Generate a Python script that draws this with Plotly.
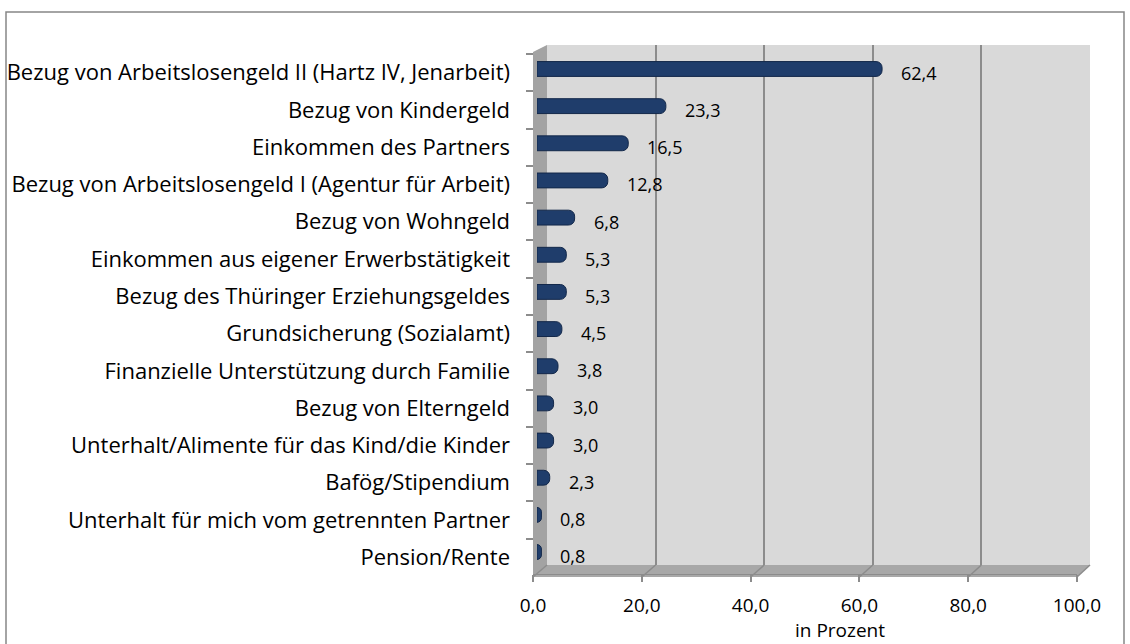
import plotly.graph_objects as go

categories = [
    "Bezug von Arbeitslosengeld II (Hartz IV, Jenarbeit)",
    "Bezug von Kindergeld",
    "Einkommen des Partners",
    "Bezug von Arbeitslosengeld I (Agentur für Arbeit)",
    "Bezug von Wohngeld",
    "Einkommen aus eigener Erwerbstätigkeit",
    "Bezug des Thüringer Erziehungsgeldes",
    "Grundsicherung (Sozialamt)",
    "Finanzielle Unterstützung durch Familie",
    "Bezug von Elterngeld",
    "Unterhalt/Alimente für das Kind/die Kinder",
    "Bafög/Stipendium",
    "Unterhalt für mich vom getrennten Partner",
    "Pension/Rente",
]
values = [62.4, 23.3, 16.5, 12.8, 6.8, 5.3, 5.3, 4.5, 3.8, 3.0, 3.0, 2.3, 0.8, 0.8]
x_ticks = [0, 20, 40, 60, 80, 100]
x_title = "in Prozent"

W, H = 1130, 644
FONT = "Open Sans"
FS_CAT = 22
FS_NUM = 19
FS_LBL = 18


def fx(p):
    return p / W


def fy(p):
    return 1 - p / H


def dom_x(a, b):
    return [fx(a), fx(b)]


def dom_y(top, bottom):
    return [fy(bottom), fy(top)]


fig = go.Figure()

fig.add_trace(go.Scatter(x=[0, 100], y=[0, 1], mode="none", showlegend=False,
                         hoverinfo="skip", xaxis="x", yaxis="y"))
fig.add_trace(go.Scatter(x=[0, 100], y=[0, 1], mode="none", showlegend=False,
                         hoverinfo="skip", xaxis="x2", yaxis="y2"))
fig.add_trace(go.Scatter(x=[0] * len(categories), y=categories, mode="none",
                         showlegend=False, hoverinfo="skip", xaxis="x3", yaxis="y4"))
fig.add_trace(go.Bar(
    x=values, y=categories, orientation="h", width=0.4,
    marker=dict(color="#1f3d6b", line=dict(color="#13284a", width=1), cornerradius=6),
    showlegend=False, hoverinfo="x+y", xaxis="x3", yaxis="y3",
))

annotations = []
for c, v in zip(categories, values):
    annotations.append(dict(
        x=v, y=c, xref="x3", yref="y3", text=f"{v:.1f}".replace(".", ","),
        showarrow=False, xanchor="left", yanchor="middle", xshift=17, yshift=-4,
        font=dict(family=FONT, size=FS_LBL, color="#000000"),
    ))
annotations.append(dict(
    x=fx(840), y=fy(630), xref="paper", yref="paper", text=x_title,
    showarrow=False, xanchor="center", yanchor="middle",
    font=dict(family=FONT, size=FS_NUM, color="#000000"),
))

back_l, back_r, back_t, back_b = 547, 1090, 45, 565
front_l, front_r, front_b = 533, 1077, 577


def path(pts):
    return "M " + " L ".join(f"{fx(a)},{fy(b)}" for a, b in pts) + " Z"


shapes = [
    dict(type="rect", xref="paper", yref="paper", x0=fx(6), x1=fx(1124), y0=fy(700), y1=fy(12),
         line=dict(color="#868686", width=1.5), fillcolor="rgba(0,0,0,0)", layer="below"),
    dict(type="rect", xref="paper", yref="paper", x0=fx(back_l), x1=fx(back_r), y0=fy(back_b), y1=fy(back_t),
         line=dict(width=0), fillcolor="#d9d9d9", layer="below"),
    dict(type="path", xref="paper", yref="paper",
         path=path([(front_l, 52), (back_l, back_t), (back_l, back_b), (front_l, front_b)]),
         line=dict(width=0), fillcolor="#a3a3a3", layer="below"),
    dict(type="path", xref="paper", yref="paper",
         path=path([(back_l, back_b), (back_r, back_b), (front_r, front_b), (front_l, front_b)]),
         line=dict(width=0), fillcolor="#a8a8a8", layer="below"),
]
for t in x_ticks:
    bx = back_l + (back_r - back_l) * t / 100
    fxp = front_l + (front_r - front_l) * t / 100
    shapes.append(dict(type="line", xref="paper", yref="paper", x0=fx(bx), y0=fy(back_b),
                       x1=fx(fxp), y1=fy(front_b), line=dict(color="#8c8c8c", width=1.5), layer="below"))

tick_text = [f"{t:.1f}".replace(".", ",") for t in x_ticks]

fig.update_layout(
    width=W, height=H, autosize=False,
    margin=dict(l=0, r=0, t=0, b=0, pad=0, autoexpand=False),
    paper_bgcolor="#ffffff",
    plot_bgcolor="rgba(0,0,0,0)",
    font=dict(family=FONT, size=FS_NUM, color="#000000"),
    showlegend=False,
    annotations=annotations,
    shapes=shapes,
    xaxis=dict(domain=dom_x(back_l, back_r), range=[0, 100], tickvals=x_ticks,
               showgrid=True, gridcolor="#8c8c8c", gridwidth=2, showticklabels=False,
               ticks="", zeroline=False, showline=False, anchor="y", fixedrange=True,
               automargin=False),
    yaxis=dict(domain=dom_y(back_t, back_b), range=[0, 1], visible=False, anchor="x",
               fixedrange=True, automargin=False),
    xaxis2=dict(domain=dom_x(front_l, front_r), range=[0, 100], tickvals=x_ticks, ticktext=tick_text,
                showgrid=False, zeroline=False, showline=True, linecolor="#8c8c8c", linewidth=1,
                ticks="outside", ticklen=7, tickcolor="#8c8c8c", tickwidth=1.5,
                ticklabelstandoff=7, anchor="y2", fixedrange=True, automargin=False,
                tickfont=dict(family=FONT, size=FS_NUM, color="#000000")),
    yaxis2=dict(domain=dom_y(560, 574), range=[0, 1], visible=False, anchor="x2",
                fixedrange=True, automargin=False),
    xaxis3=dict(domain=dom_x(537, 1090), range=[0, 100], visible=False, anchor="y3",
                fixedrange=True, automargin=False),
    yaxis3=dict(domain=dom_y(50.4, 570.6), type="category", categoryarray=categories,
                categoryorder="array", range=[len(categories) - 0.5, -0.5],
                visible=False, anchor="x3", fixedrange=True, automargin=False),
    yaxis4=dict(domain=dom_y(54, 576), type="category", categoryarray=categories,
                categoryorder="array", range=[len(categories) - 0.5, -0.5],
                anchor="free", position=fx(front_l),
                showgrid=False, zeroline=False, showline=False,
                ticks="outside", ticklen=7, tickcolor="#8c8c8c", tickwidth=1.5,
                tickson="boundaries", ticklabelstandoff=23, fixedrange=True, automargin=False,
                tickfont=dict(family=FONT, size=FS_CAT, color="#000000")),
)

fig.write_html(
    "out.html",
    config={"displayModeBar": False, "responsive": False},
    post_script="document.body.style.margin='0';document.body.style.overflow='hidden';",
)
